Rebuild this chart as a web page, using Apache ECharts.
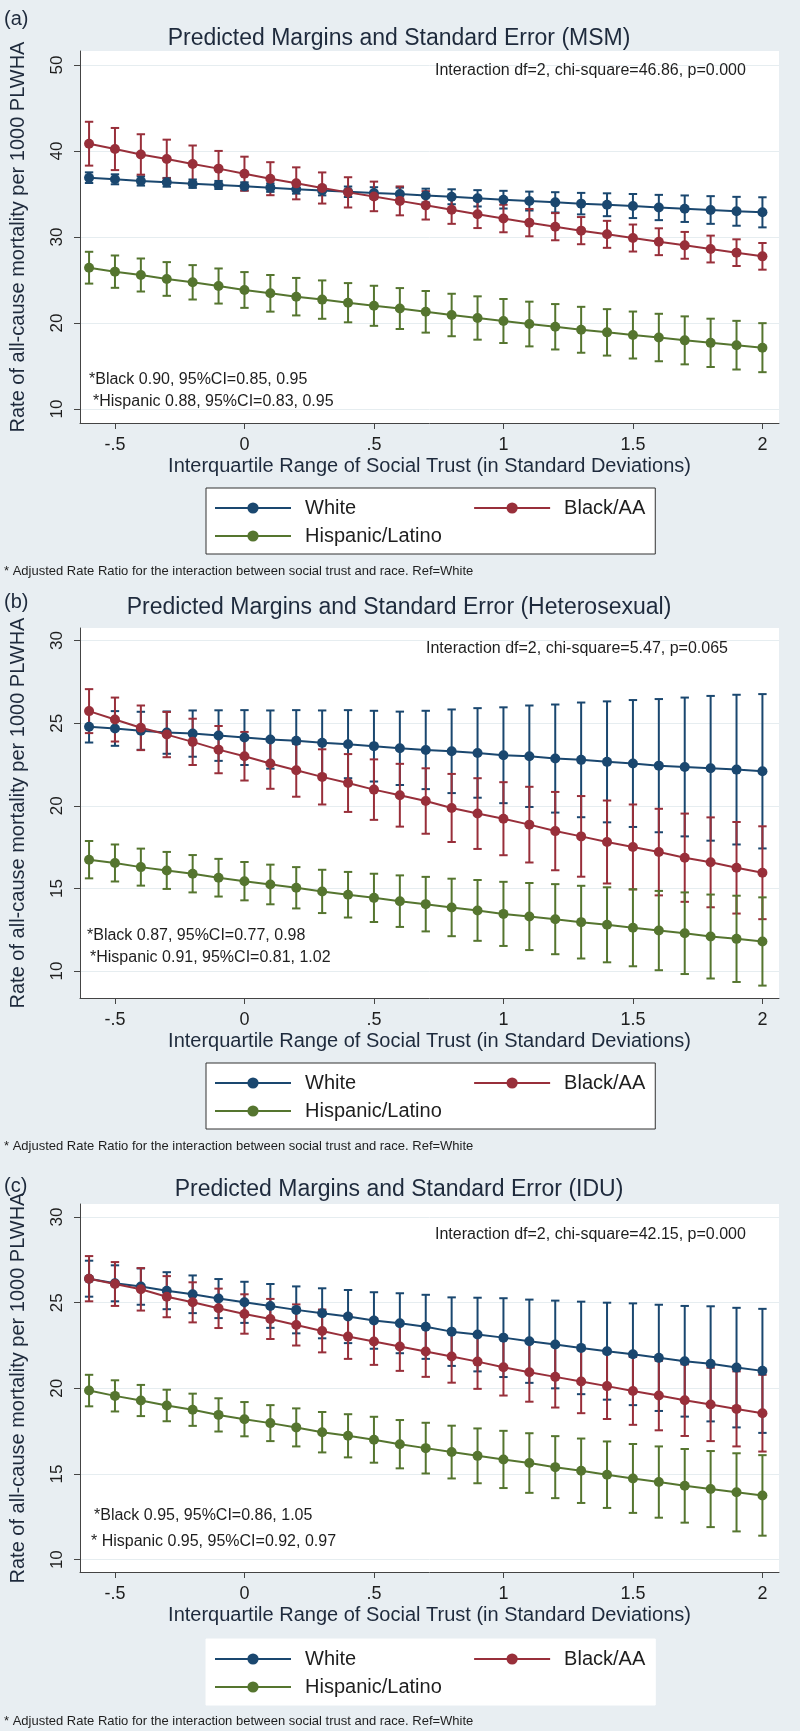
<!DOCTYPE html>
<html><head><meta charset="utf-8">
<script src="https://cdn.jsdelivr.net/npm/echarts@6/dist/echarts.min.js"></script>
<style>html,body{margin:0;padding:0;background:#e8eef2}#c{width:800px;height:1731px}</style>
</head><body><div id="c"></div>
<script>
// ---- data ----
const xVals = [-0.6,-0.5,-0.4,-0.3,-0.2,-0.1,0,0.1,0.2,0.3,0.4,0.5,0.6,0.7,0.8,0.9,1.0,1.1,1.2,1.3,1.4,1.5,1.6,1.7,1.8,1.9,2.0];
const xTicks = [-0.5,0,0.5,1,1.5,2];
const yTicksA = [10,20,30,40,50];
const yTicksBC = [10,15,20,25,30];
const seriesNames = ['White','Black/AA','Hispanic/Latino'];

// (a) MSM
const aWhite = [36.90,36.71,36.52,36.36,36.20,36.05,35.89,35.74,35.56,35.40,35.26,35.12,35.00,34.82,34.68,34.50,34.34,34.18,34.03,33.88,33.75,33.60,33.43,33.29,33.14,32.99,32.87];
const aWhiteErr = [0.62,0.58,0.54,0.51,0.49,0.47,0.47,0.49,0.52,0.56,0.61,0.67,0.74,0.80,0.87,0.95,1.03,1.10,1.18,1.25,1.33,1.40,1.47,1.54,1.61,1.68,1.75];
const aBlack = [40.85,40.23,39.60,39.07,38.49,37.95,37.36,36.78,36.24,35.70,35.19,34.72,34.20,33.68,33.16,32.65,32.15,31.67,31.20,30.74,30.31,29.88,29.45,29.03,28.60,28.18,27.75];
const aBlackErr = [2.55,2.45,2.35,2.25,2.15,2.06,1.98,1.92,1.86,1.81,1.76,1.72,1.68,1.65,1.63,1.61,1.60,1.59,1.58,1.58,1.57,1.57,1.56,1.56,1.56,1.55,1.55];
const aHisp = [26.43,25.97,25.58,25.12,24.73,24.30,23.84,23.45,23.06,22.72,22.36,22.00,21.68,21.30,20.93,20.58,20.23,19.88,19.56,19.21,18.91,18.60,18.31,17.98,17.69,17.42,17.13];
const aHispErr = [1.85,1.88,1.92,1.96,2.00,2.04,2.08,2.13,2.18,2.23,2.28,2.33,2.38,2.42,2.47,2.52,2.56,2.60,2.64,2.67,2.70,2.73,2.76,2.79,2.81,2.83,2.85];

// (b) Heterosexual
const bWhite = [24.78,24.68,24.54,24.43,24.37,24.25,24.13,24.01,23.93,23.81,23.73,23.61,23.48,23.38,23.30,23.20,23.06,23.00,22.86,22.78,22.66,22.56,22.43,22.35,22.27,22.19,22.09];
const bWhiteErr = [0.95,1.05,1.15,1.28,1.40,1.53,1.66,1.76,1.86,1.96,2.06,2.14,2.22,2.37,2.53,2.71,2.90,3.07,3.27,3.47,3.66,3.84,4.03,4.20,4.38,4.53,4.67];
const bBlack = [25.73,25.22,24.72,24.31,23.87,23.40,23.00,22.56,22.15,21.75,21.38,20.98,20.64,20.29,19.87,19.53,19.22,18.86,18.47,18.15,17.81,17.51,17.20,16.86,16.58,16.25,15.95];
const bBlackErr = [1.33,1.33,1.35,1.37,1.40,1.43,1.47,1.53,1.60,1.67,1.75,1.83,1.90,1.98,2.06,2.14,2.21,2.29,2.37,2.44,2.51,2.57,2.62,2.67,2.72,2.77,2.81];
const bHisp = [16.74,16.54,16.29,16.09,15.89,15.65,15.44,15.24,15.04,14.82,14.62,14.43,14.23,14.05,13.85,13.67,13.46,13.30,13.14,12.96,12.80,12.62,12.45,12.29,12.09,11.95,11.79];
const bHispErr = [1.13,1.12,1.12,1.12,1.13,1.14,1.16,1.20,1.25,1.31,1.38,1.46,1.56,1.65,1.74,1.84,1.94,2.03,2.12,2.20,2.27,2.33,2.40,2.47,2.54,2.61,2.67];

// (c) IDU
const cWhite = [26.40,26.13,25.94,25.70,25.49,25.24,25.02,24.81,24.58,24.38,24.19,23.96,23.80,23.59,23.31,23.14,22.96,22.75,22.56,22.36,22.17,21.99,21.78,21.58,21.43,21.21,21.02];
const cWhiteErr = [1.05,1.05,1.06,1.08,1.10,1.14,1.20,1.28,1.37,1.46,1.55,1.65,1.75,1.87,2.00,2.15,2.30,2.43,2.56,2.70,2.83,2.97,3.10,3.23,3.36,3.49,3.62];
const cBlack = [26.40,26.09,25.78,25.35,25.02,24.67,24.34,24.05,23.70,23.35,23.02,22.73,22.44,22.15,21.86,21.56,21.23,20.94,20.67,20.40,20.13,19.85,19.58,19.31,19.06,18.80,18.55];
const cBlackErr = [1.32,1.28,1.24,1.20,1.17,1.15,1.15,1.17,1.20,1.25,1.30,1.36,1.42,1.48,1.53,1.59,1.65,1.72,1.79,1.85,1.92,1.98,2.03,2.09,2.14,2.19,2.24];
const cHisp = [19.87,19.56,19.29,19.00,18.75,18.45,18.20,17.97,17.72,17.44,17.23,17.00,16.74,16.51,16.28,16.06,15.85,15.64,15.40,15.19,14.96,14.74,14.53,14.31,14.12,13.93,13.75];
const cHispErr = [0.92,0.91,0.91,0.92,0.94,0.97,1.00,1.05,1.11,1.18,1.26,1.34,1.41,1.48,1.54,1.60,1.67,1.74,1.81,1.88,1.94,2.01,2.08,2.15,2.22,2.28,2.35];

// ---- text ----
const xTitle = 'Interquartile Range of Social Trust (in Standard Deviations)';
const yTitle = 'Rate of all-cause mortality per 1000 PLWHA';
const footText = '* Adjusted Rate Ratio for the interaction between social trust and race. Ref=White';

// ---- style / layout ----
const FONT = '"Liberation Sans", Arial, sans-serif';
const COLORS = ['#1a476f', '#982f3a', '#55752f'];
const TXT = '#1e1e1e';
const TITLE_C = '#1e2a3c';
const AXIS_C = '#444444';
const GRID_C = '#e6edf0';

const panels = [
  { tag:'(a)', title:'Predicted Margins and Standard Error (MSM)', inter:'Interaction df=2, chi-square=46.86, p=0.000',
    notes:['*Black 0.90, 95%CI=0.85, 0.95', '*Hispanic 0.88, 95%CI=0.83, 0.95'],
    means:[aWhite,aBlack,aHisp], errs:[aWhiteErr,aBlackErr,aHispErr], yTicks:yTicksA,
    L:{top:51, h:372, yMin:8.37, yMax:51.63, tagY:19, titleY:39, interX:435, interY:71, noteX:[89,93], noteY:[380,402], legTop:488, legBorder:true, footY:571} },
  { tag:'(b)', title:'Predicted Margins and Standard Error (Heterosexual)', inter:'Interaction df=2, chi-square=5.47, p=0.065',
    notes:['*Black 0.87, 95%CI=0.77, 0.98', '*Hispanic 0.91, 95%CI=0.81, 1.02'],
    means:[bWhite,bBlack,bHisp], errs:[bWhiteErr,bBlackErr,bHispErr], yTicks:yTicksBC,
    L:{top:628, h:370, yMin:8.37, yMax:30.76, tagY:602, titleY:608, interX:426, interY:649, noteX:[87,90], noteY:[936,958], legTop:1063, legBorder:true, footY:1146} },
  { tag:'(c)', title:'Predicted Margins and Standard Error (IDU)', inter:'Interaction df=2, chi-square=42.15, p=0.000',
    notes:['*Black 0.95, 95%CI=0.86, 1.05', '* Hispanic 0.95, 95%CI=0.92, 0.97'],
    means:[cWhite,cBlack,cHisp], errs:[cWhiteErr,cBlackErr,cHispErr], yTicks:yTicksBC,
    L:{top:1204, h:368, yMin:9.28, yMax:30.76, tagY:1186, titleY:1190, interX:435, interY:1235, noteX:[94,91], noteY:[1516,1542], legTop:1639, legBorder:false, footY:1721} }
];

function errRender(color) {
  return function (params, api) {
    const x = api.value(0), lo = api.value(1), hi = api.value(2);
    const pHi = api.coord([x, hi]), pLo = api.coord([x, lo]);
    const cw = 4.2;
    const st = { stroke: color, lineWidth: 2 };
    return { type:'group', children:[
      { type:'line', shape:{x1:pHi[0], y1:pHi[1], x2:pLo[0], y2:pLo[1]}, style:st },
      { type:'line', shape:{x1:pHi[0]-cw, y1:pHi[1], x2:pHi[0]+cw, y2:pHi[1]}, style:st },
      { type:'line', shape:{x1:pLo[0]-cw, y1:pLo[1], x2:pLo[0]+cw, y2:pLo[1]}, style:st }
    ]};
  };
}

const option = { animation:false, backgroundColor:'#e8eef2', grid:[], xAxis:[], yAxis:[], series:[], legend:[], graphic:[] };

function txt(text, x, y, size, align, color) {
  return { type:'text', x:x, y:y, silent:true, z:10,
    style:{ text:text, fontSize:size, fontFamily:FONT, fill:color||TXT, align:align||'left', verticalAlign:'middle' } };
}

panels.forEach((p, i) => {
  const L = p.L;
  option.grid.push({ left:80, top:L.top, width:699, height:L.h, show:true, backgroundColor:'#ffffff', borderWidth:0 });
  option.xAxis.push({
    type:'value', gridIndex:i, min:-0.635, max:2.064,
    axisLine:{ show:true, onZero:false, lineStyle:{ color:AXIS_C, width:1 } },
    axisTick:{ show:true, length:6, customValues:xTicks, lineStyle:{ color:AXIS_C } },
    axisLabel:{ customValues:xTicks, fontSize:18, fontFamily:FONT, color:TXT, margin:13,
      formatter:(v) => String(v).replace('0.', '.') },
    splitLine:{ show:false },
    name:xTitle, nameLocation:'middle', nameGap:33,
    nameTextStyle:{ fontSize:20, fontFamily:FONT, color:TITLE_C }
  });
  option.yAxis.push({
    type:'value', gridIndex:i, min:L.yMin, max:L.yMax,
    axisLine:{ show:true, onZero:false, lineStyle:{ color:AXIS_C, width:1 } },
    axisTick:{ show:true, length:6, customValues:p.yTicks, lineStyle:{ color:AXIS_C } },
    axisLabel:{ customValues:p.yTicks, rotate:90, fontSize:17, fontFamily:FONT, color:TXT, margin:14 },
    splitLine:{ show:true, lineStyle:{ color:GRID_C, width:1 } },
    name:yTitle, nameLocation:'middle', nameGap:52, nameRotate:90,
    nameTextStyle:{ fontSize:20, fontFamily:FONT, color:TITLE_C }
  });
  seriesNames.forEach((nm, k) => {
    option.series.push({
      type:'custom', name:nm + ' CI', xAxisIndex:i, yAxisIndex:i, z:2, silent:true,
      renderItem:errRender(COLORS[k]),
      encode:{ x:0, y:[1,2] },
      data:xVals.map((x, j) => [x, p.means[k][j] - p.errs[k][j], p.means[k][j] + p.errs[k][j]])
    });
  });
  seriesNames.forEach((nm, k) => {
    option.series.push({
      type:'line', name:nm, xAxisIndex:i, yAxisIndex:i, z:3, silent:true,
      symbol:'circle', symbolSize:10, showSymbol:true,
      lineStyle:{ color:COLORS[k], width:2 }, itemStyle:{ color:COLORS[k] },
      data:xVals.map((x, j) => [x, p.means[k][j]])
    });
  });
  const legText = { fontSize:20, fontFamily:FONT, color:TXT, padding:[0,0,0,9], lineHeight:20 };
  option.legend.push({
    left:206, top:L.legTop, orient:'horizontal', data:['White','Black/AA'], selectedMode:false,
    itemWidth:76, itemHeight:14, itemGap:117, padding:[10,10,36,8],
    backgroundColor:'#ffffff', borderColor:L.legBorder ? '#333333' : '#ffffff', borderWidth:1, borderRadius:0,
    textStyle:legText
  });
  option.legend.push({
    left:214, top:L.legTop + 38, orient:'horizontal', data:['Hispanic/Latino'], selectedMode:false,
    itemWidth:76, itemHeight:14, padding:0, textStyle:legText, z:5
  });
  option.graphic.push(txt(p.tag, 4, L.tagY, 20, 'left', TITLE_C));
  option.graphic.push(txt(p.title, 399, L.titleY, 23, 'center', TITLE_C));
  option.graphic.push(txt(p.inter, L.interX, L.interY, 16, 'left'));
  option.graphic.push(txt(p.notes[0], L.noteX[0], L.noteY[0], 16, 'left'));
  option.graphic.push(txt(p.notes[1], L.noteX[1], L.noteY[1], 16, 'left'));
  option.graphic.push(txt(footText, 4, L.footY, 13, 'left'));
});

const chart = echarts.init(document.getElementById('c'), null, { renderer:'canvas' });
chart.setOption(option);
</script></body></html>
